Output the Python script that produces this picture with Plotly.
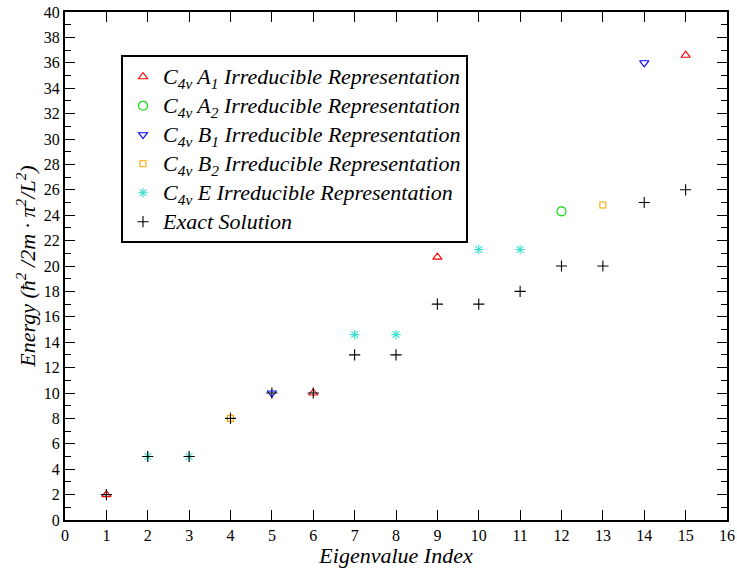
import plotly.graph_objects as go

a1_x = [1, 6, 9, 15]
a1_y = [2, 10, 20.7, 36.6]
a2_x = [12]
a2_y = [24.3]
b1_x = [5, 14]
b1_y = [10, 36.0]
b2_x = [4, 13]
b2_y = [8, 24.8]
e_x = [2, 3, 7, 8, 10, 11]
e_y = [5, 5, 14.6, 14.6, 21.3, 21.3]
ex_x = list(range(1, 16))
ex_y = [2, 5, 5, 8, 10, 10, 13, 13, 17, 17, 18, 20, 20, 25, 26]

FONT = "Times New Roman"


def lg(t):
    return '<span style="font-size:22px"><i>' + t + '</i></span>'


series = [
    (lg("C<sub>4v</sub> A<sub>1</sub> Irreducible Representation"), a1_x, a1_y, "triangle-up-open", "#ff0000", 8),
    (lg("C<sub>4v</sub> A<sub>2</sub> Irreducible Representation"), a2_x, a2_y, "circle-open", "#00dd00", 9),
    (lg("C<sub>4v</sub> B<sub>1</sub> Irreducible Representation"), b1_x, b1_y, "triangle-down-open", "#0000ff", 8),
    (lg("C<sub>4v</sub> B<sub>2</sub> Irreducible Representation"), b2_x, b2_y, "square-open", "#ffa500", 6),
    (lg("C<sub>4v</sub> E Irreducible Representation"), e_x, e_y, "asterisk-open", "#40e0d0", 8),
    (lg("Exact Solution"), ex_x, ex_y, "cross-thin-open", "#000000", 8),
]

fig = go.Figure()
for name, xs, ys, sym, col, sz in series:
    fig.add_trace(go.Scatter(
        x=xs, y=ys, mode="markers", name=name,
        marker=dict(symbol=sym, size=sz, color=col, line=dict(color=col, width=1.1)),
    ))

fig.update_layout(
    width=737, height=568,
    margin=dict(l=65, r=10, t=12, b=48),
    paper_bgcolor="white", plot_bgcolor="white",
    font=dict(family=FONT, size=16, color="black"),
    showlegend=True,
    legend=dict(
        x=0.0846, y=0.915, xanchor="left", yanchor="top",
        bordercolor="black", borderwidth=2, bgcolor="white",
        font=dict(family=FONT, size=20, color="black"),
        tracegroupgap=0, itemwidth=30,
    ),
    xaxis=dict(
        range=[0, 16], dtick=1, tick0=0, automargin=False,
        showgrid=False, zeroline=False,
        showline=True, linecolor="black", linewidth=2, mirror="ticks",
        ticks="inside", ticklen=10, tickwidth=1.2, tickcolor="black",
        tickfont=dict(family=FONT, size=16),
        title=dict(text="<i>Eigenvalue Index</i>", font=dict(family=FONT, size=22), standoff=0),
    ),
    yaxis=dict(
        range=[0, 40], dtick=2, tick0=0, automargin=False,
        showgrid=False, zeroline=False,
        showline=True, linecolor="black", linewidth=2, mirror="ticks",
        ticks="inside", ticklen=10, tickwidth=1.2, tickcolor="black",
        minor=dict(ticks="inside", dtick=1, ticklen=6, tickwidth=1.2, tickcolor="black", showgrid=False),
        tickfont=dict(family=FONT, size=16),
        title=dict(text="<i>Energy (ħ<sup>2</sup> /2m · π<sup>2</sup>/L<sup>2</sup>)</i>", font=dict(family=FONT, size=22), standoff=2),
    ),
)

fig.write_html("out.html")
